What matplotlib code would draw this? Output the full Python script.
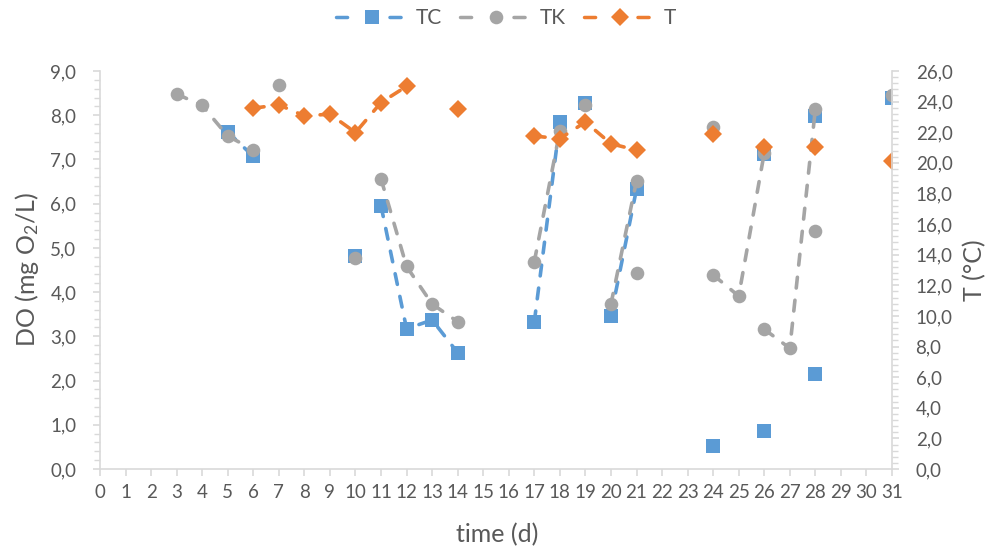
import numpy as np
import matplotlib
matplotlib.use("Agg")
import matplotlib.pyplot as plt
from matplotlib.lines import Line2D
from matplotlib.ticker import MultipleLocator, FuncFormatter

nan = np.nan

# Dissolved oxygen, TC series (NaN separates unconnected runs)
tc_day = [5, 6, nan, 10, nan, 11, 12, 13, 14, nan, 17, 18, nan, 19, nan,
          20, 21, nan, 24, nan, 26, nan, 26, nan, 28, nan, 28, nan, 31]
tc_do = [7.62, 7.07, nan, 4.82, nan, 5.95, 3.17, 3.37, 2.63, nan, 3.33, 7.84, nan, 8.28, nan,
         3.47, 6.33, nan, 0.52, nan, 0.86, nan, 7.13, nan, 2.15, nan, 7.98, nan, 8.39]

# Dissolved oxygen, TK series
tk_day = [3, 4, 5, 6, nan, 7, nan, 10, nan, 11, 12, 13, 14, nan, 17, 18, nan, 19, nan,
          20, 21, nan, 21, nan, 24, nan, 24, 25, 26, nan, 26, 27, 28, nan, 28, nan, 31]
tk_do = [8.48, 8.22, 7.53, 7.22, nan, 8.68, nan, 4.77, nan, 6.56, 4.58, 3.73, 3.33, nan, 4.69, 7.65, nan, 8.24, nan,
         3.73, 6.52, nan, 4.44, nan, 7.74, nan, 4.39, 3.91, 7.15, nan, 3.16, 2.73, 8.14, nan, 5.39, nan, 8.46]

# Temperature (right axis)
t_day = [6, 7, 8, 9, 10, 11, 12, nan, 14, nan, 17, 18, 19, 20, 21, nan, 24, nan, 26, nan, 28, nan, 31]
t_temp = [23.57, 23.79, 23.07, 23.18, 21.98, 23.94, 25.0, nan, 23.5, nan, 21.75, 21.58, 22.67, 21.25, 20.83,
          nan, 21.86, nan, 21.05, nan, 21.05, nan, 20.11]

series_names = ["TC", "TK", "T"]
x_label = "time (d)"
y_label = "DO (mg O$_2$/L)"
y2_label = "T (°C)"

BLUE = "#5B9BD5"
GRAY = "#A5A5A5"
ORANGE = "#ED7D31"
TEXT = "#595959"
AXIS = "#D9D9D9"

plt.rcParams["font.family"] = ["Lato", "DejaVu Sans"]
plt.rcParams["mathtext.fontset"] = "custom"
plt.rcParams["mathtext.rm"] = "Lato"
plt.rcParams["mathtext.it"] = "Lato:italic"
plt.rcParams["mathtext.default"] = "regular"

fig = plt.figure(figsize=(9.95, 5.5), dpi=100)
ax = fig.add_axes([100 / 995, 1 - 469 / 550, 792 / 995, 398 / 550])
ax2 = ax.twinx()

LW = 2.6
DASH = (3.0, 3.4)
style = dict(linewidth=LW, dash_capstyle="round", dash_joinstyle="round")

ax.plot(np.array(tc_day, float), np.array(tc_do, float), color=BLUE, marker="s", markersize=9.6,
        markeredgewidth=0, dashes=DASH, **style)
ax.plot(np.array(tk_day, float), np.array(tk_do, float), color=GRAY, marker="o", markersize=9.8,
        markeredgewidth=0, dashes=DASH, **style)
ax2.plot(np.array(t_day, float), np.array(t_temp, float), color=ORANGE, marker="D", markersize=9.2,
         markeredgewidth=0, dashes=DASH, **style)

comma = FuncFormatter(lambda v, p: f"{v:.1f}".replace(".", ","))

ax.set_xlim(0, 31)
ax.set_ylim(0, 9)
ax2.set_ylim(0, 26)
ax.xaxis.set_major_locator(MultipleLocator(1))
ax.yaxis.set_major_locator(MultipleLocator(1))
ax.yaxis.set_minor_locator(MultipleLocator(0.2))
ax2.yaxis.set_major_locator(MultipleLocator(2))
ax2.yaxis.set_minor_locator(MultipleLocator(0.4))
ax.yaxis.set_major_formatter(comma)
ax2.yaxis.set_major_formatter(comma)

for a in (ax, ax2):
    for s in a.spines.values():
        s.set_color(AXIS)
        s.set_linewidth(1.2)
    a.spines["top"].set_visible(False)
ax.spines["right"].set_visible(False)
ax2.spines["left"].set_visible(False)
ax2.spines["bottom"].set_visible(False)

ax.tick_params(axis="x", which="major", length=5, width=1.2, color=AXIS, labelcolor=TEXT,
               labelsize=13.5, pad=6)
ax.tick_params(axis="y", which="major", length=5, width=1.2, color=AXIS, labelcolor=TEXT,
               labelsize=13.5, pad=12)
ax.tick_params(axis="y", which="minor", length=4, width=1.0, color=AXIS)
ax2.tick_params(axis="y", which="major", length=5, width=1.2, color=AXIS, labelcolor=TEXT,
                labelsize=13.5, pad=12)
ax2.tick_params(axis="y", which="minor", length=4, width=1.0, color=AXIS)

ax.set_xlabel(x_label, fontsize=18, color=TEXT)
ax.set_ylabel(y_label, fontsize=18, color=TEXT)
ax2.set_ylabel(y2_label, fontsize=18, color=TEXT)
ax.xaxis.set_label_coords(0.501, -0.135)
ax.yaxis.set_label_coords(-0.074, 0.5)
ax2.yaxis.set_label_coords(1.09, 0.5)

# Legend handles: dash, marker, dash
LEG_DASH = (3.2, 12.2)
handles = [
    Line2D([], [], color=BLUE, marker="s", markersize=9.6, markeredgewidth=0, linewidth=2.5,
           dashes=LEG_DASH, dash_capstyle="round"),
    Line2D([], [], color=GRAY, marker="o", markersize=9.8, markeredgewidth=0, linewidth=2.5,
           dashes=LEG_DASH, dash_capstyle="round"),
    Line2D([], [], color=ORANGE, marker="D", markersize=9.2, markeredgewidth=0, linewidth=2.5,
           dashes=LEG_DASH, dash_capstyle="round"),
]
leg = fig.legend(handles, series_names, loc="center", bbox_to_anchor=(506 / 995, 1 - 18 / 550),
                 ncol=3, frameon=False, fontsize=15, handlelength=3.4, handletextpad=0.4,
                 columnspacing=0.9, numpoints=1)
for t in leg.get_texts():
    t.set_color(TEXT)

fig.savefig("out.png", dpi=100)
